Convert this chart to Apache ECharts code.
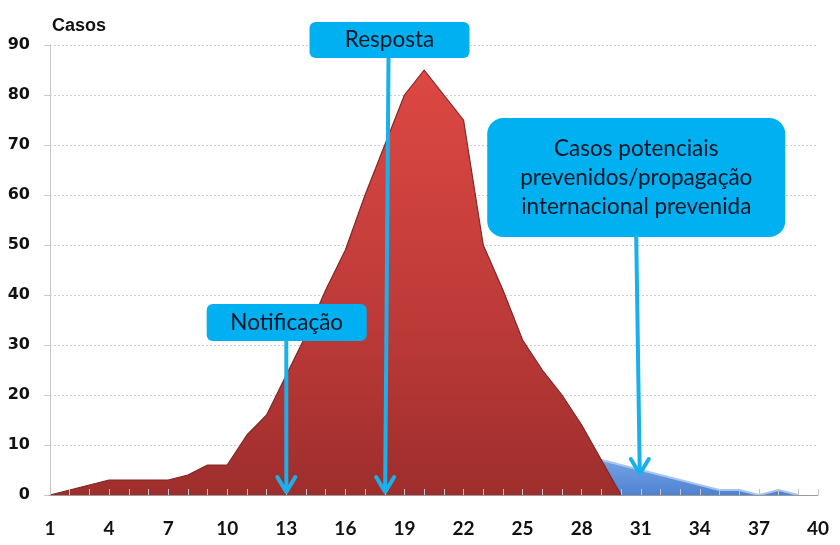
<!DOCTYPE html>
<html>
<head>
<meta charset="utf-8">
<script src="https://cdn.jsdelivr.net/npm/echarts@6/dist/echarts.min.js"></script>
<style>
  html, body { margin: 0; padding: 0; background: #ffffff; }
  #chart { width: 840px; height: 545px; }
</style>
</head>
<body>
<div id="chart"></div>
<script>
// ---- data ----
const days = [1,2,3,4,5,6,7,8,9,10,11,12,13,14,15,16,17,18,19,20,21,22,23,24,25,26,27,28,29,30,31,32,33,34,35,36,37,38,39,40];
const xTickLabels = [1,4,7,10,13,16,19,22,25,28,31,34,37,40];
const observedCases = [0,1,2,3,3,3,3,4,6,6,12,16,24,32,41,49,60,70,80,85,80,75,50,41,31,25,20,14,7,0,null,null,null,null,null,null,null,null,null,null];
const preventedCases = [null,null,null,null,null,null,null,null,null,null,null,null,null,null,null,null,null,null,null,null,null,null,null,null,null,null,null,8,7,6,5,4,3,2,1,1,0,1,0,null];
const yAxisName = 'Casos';
const calloutTexts = ['Notificação', 'Resposta', 'Casos potenciais\nprevenidos/propagação\ninternacional prevenida'];

// ---- annotation layout (in data units) ----
const calloutLayout = [
  { cx: 13.02, cy: 34.5, w: 160, h: 37, r: 6, from: [13, 30.8], to: [13, 0.6] },
  { cx: 18.24, cy: 91.0, w: 160, h: 36, r: 6, from: [18.19, 87.4], to: [18.02, 0.6] },
  { cx: 30.77, cy: 63.5, w: 298, h: 119, r: 16, from: [30.77, 51.6], to: [30.95, 4.2] }
];

const toPairs = (vals) => days.map((d, i) => [d, vals[i]]);

const chart = echarts.init(document.getElementById('chart'), null, { renderer: 'canvas' });

const option = {
  animation: false,
  backgroundColor: '#ffffff',
  grid: { left: 50, right: 22, top: 45, bottom: 50 },
  xAxis: {
    type: 'value',
    min: 1,
    max: 40,
    z: 5,
    axisLine: { show: true, lineStyle: { color: '#9a9a9a', width: 1 } },
    axisTick: { show: true, inside: true, length: 6, customValues: days, lineStyle: { color: '#c4c4c4' } },
    axisLabel: {
      customValues: xTickLabels,
      margin: 24,
      fontFamily: 'Lato',
      fontWeight: 'bold',
      fontSize: 19,
      color: '#111111'
    },
    splitLine: { show: false }
  },
  yAxis: {
    type: 'value',
    min: 0,
    max: 90,
    interval: 10,
    name: yAxisName,
    nameLocation: 'end',
    nameGap: 10,
    nameTextStyle: {
      fontFamily: 'Liberation Sans',
      fontWeight: 'bold',
      fontSize: 18,
      color: '#111111',
      align: 'left',
      padding: [0, 0, 0, 2]
    },
    axisLine: { show: true, lineStyle: { color: '#c8c8c8' } },
    axisTick: { show: true, length: 6, lineStyle: { color: '#c8c8c8' } },
    axisLabel: {
      margin: 20,
      fontFamily: 'DejaVu Sans',
      fontWeight: 'bold',
      fontSize: 16,
      color: '#111111'
    },
    splitLine: { show: true, lineStyle: { type: [2, 2], color: '#cdcdcd' } }
  },
  series: [
    {
      type: 'line',
      name: 'prevenidos',
      data: toPairs(preventedCases),
      symbol: 'none',
      z: 2,
      lineStyle: { color: '#a9c6ee', width: 2 },
      areaStyle: {
        opacity: 1,
        color: new echarts.graphic.LinearGradient(0, 0, 0, 1, [
          { offset: 0, color: '#79a5e6' },
          { offset: 1, color: '#4f83d2' }
        ])
      }
    },
    {
      type: 'line',
      name: 'casos',
      data: toPairs(observedCases),
      symbol: 'none',
      z: 3,
      lineStyle: { color: '#7e2828', width: 1.2 },
      areaStyle: {
        opacity: 1,
        color: new echarts.graphic.LinearGradient(0, 0, 0, 1, [
          { offset: 0, color: '#dd4843' },
          { offset: 0.6, color: '#bc3a38' },
          { offset: 1, color: '#9e2e2d' }
        ])
      }
    }
  ]
};

chart.setOption(option);

// ---- callouts, positioned from data coordinates ----
function px(pt) { return chart.convertToPixel({ gridIndex: 0 }, pt); }
const boxColor = '#00b0f0';
const arrowColor = '#1ab0ec';
const elements = [];
calloutLayout.forEach((c, i) => {
  const center = px([c.cx, c.cy]);
  const a = px(c.from);
  const b = px(c.to);
  elements.push({
    type: 'line', z: 100,
    shape: { x1: a[0], y1: a[1], x2: b[0], y2: b[1] },
    style: { stroke: arrowColor, lineWidth: 4 }
  });
  elements.push({
    type: 'polyline', z: 100,
    shape: { points: [[b[0] - 9, b[1] - 15], [b[0], b[1]], [b[0] + 9, b[1] - 15]] },
    style: { stroke: arrowColor, lineWidth: 4, fill: null, lineCap: 'round', lineJoin: 'round' }
  });
  elements.push({
    type: 'rect', z: 101,
    shape: { x: center[0] - c.w / 2, y: center[1] - c.h / 2, width: c.w, height: c.h, r: c.r },
    style: { fill: boxColor }
  });
  elements.push({
    type: 'text', z: 102,
    x: center[0], y: center[1],
    style: {
      text: calloutTexts[i],
      fontFamily: 'Lato',
      fontSize: 22.5,
      lineHeight: 29,
      fill: '#0b1626',
      align: 'center',
      verticalAlign: 'middle'
    }
  });
});
chart.setOption({ graphic: { elements: elements } });
</script>
</body>
</html>
